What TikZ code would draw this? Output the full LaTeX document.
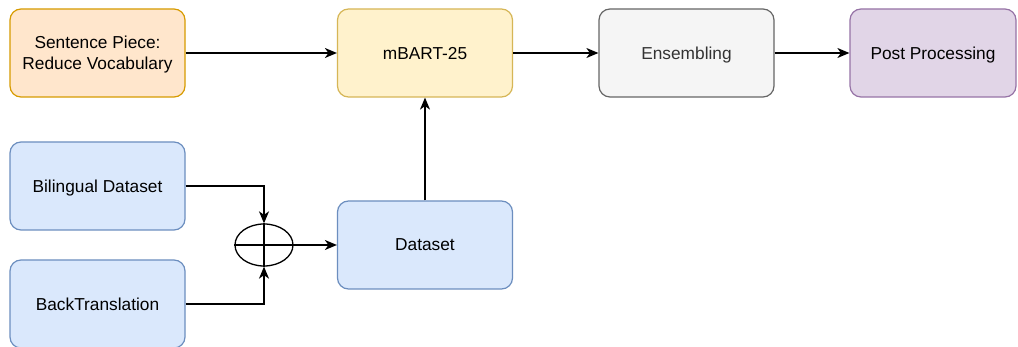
\documentclass[tikz,border=0pt]{standalone}
\usepackage{fontspec}
\setmainfont{Liberation Sans}
\usetikzlibrary{arrows.meta,shapes.geometric}
\definecolor{orF}{HTML}{FFE6CC}\definecolor{orS}{HTML}{D79B00}
\definecolor{yeF}{HTML}{FFF2CC}\definecolor{yeS}{HTML}{D6B656}
\definecolor{grF}{HTML}{F5F5F5}\definecolor{grS}{HTML}{666666}\definecolor{grT}{HTML}{333333}
\definecolor{puF}{HTML}{E1D5E7}\definecolor{puS}{HTML}{9673A6}
\definecolor{blF}{HTML}{DAE8FC}\definecolor{blS}{HTML}{6C8EBF}
\begin{document}
\begin{tikzpicture}[x=1pt,y=-1pt,
  box/.style={draw, rounded corners=11pt, line width=1.2pt, minimum width=175pt, minimum height=88pt,
    align=center, font=\fontsize{17.3}{21}\selectfont, inner sep=0pt, text depth=0pt},
  orb/.style={box, fill=orF, draw=orS},
  yeb/.style={box, fill=yeF, draw=yeS},
  grb/.style={box, fill=grF, draw=grS, text=grT},
  pub/.style={box, fill=puF, draw=puS},
  blb/.style={box, fill=blF, draw=blS},
  conn/.style={draw=black, line width=1.3pt, -{Stealth[length=12pt,width=10pt,inset=3.5pt]}},
  plain/.style={draw=black, line width=1.3pt}]
\useasboundingbox (0,0) rectangle (1018,347);
\fill[white] (0,0) rectangle (1018,347);
\node[orb] (sp) at (97.5,53) {Sentence Piece:\\Reduce Vocabulary};
\node[yeb] (mb) at (425,53) {mBART-25};
\node[grb] (en) at (686.5,53) {Ensembling};
\node[pub, minimum width=166pt] (pp) at (933,53) {Post Processing};
\node[blb] (bi) at (97.5,186) {Bilingual Dataset};
\node[blb] (bt) at (97.5,304) {BackTranslation};
\node[blb] (ds) at (425,245) {Dataset};
\node[draw=black, line width=1.3pt, ellipse, minimum width=58pt, minimum height=42pt, inner sep=0pt] (op) at (264,245) {};
\draw[plain] (op.north) -- (op.south);
\draw[plain] (op.west) -- (op.east);
\draw[conn] (sp) -- (mb);
\draw[conn] (mb) -- (en);
\draw[conn] (en) -- (pp);
\draw[conn] (ds) -- (mb);
\draw[conn] (op) -- (ds);
\draw[conn] (bi.east) -| (op.north);
\draw[conn] (bt.east) -| (op.south);
\end{tikzpicture}
\end{document}
